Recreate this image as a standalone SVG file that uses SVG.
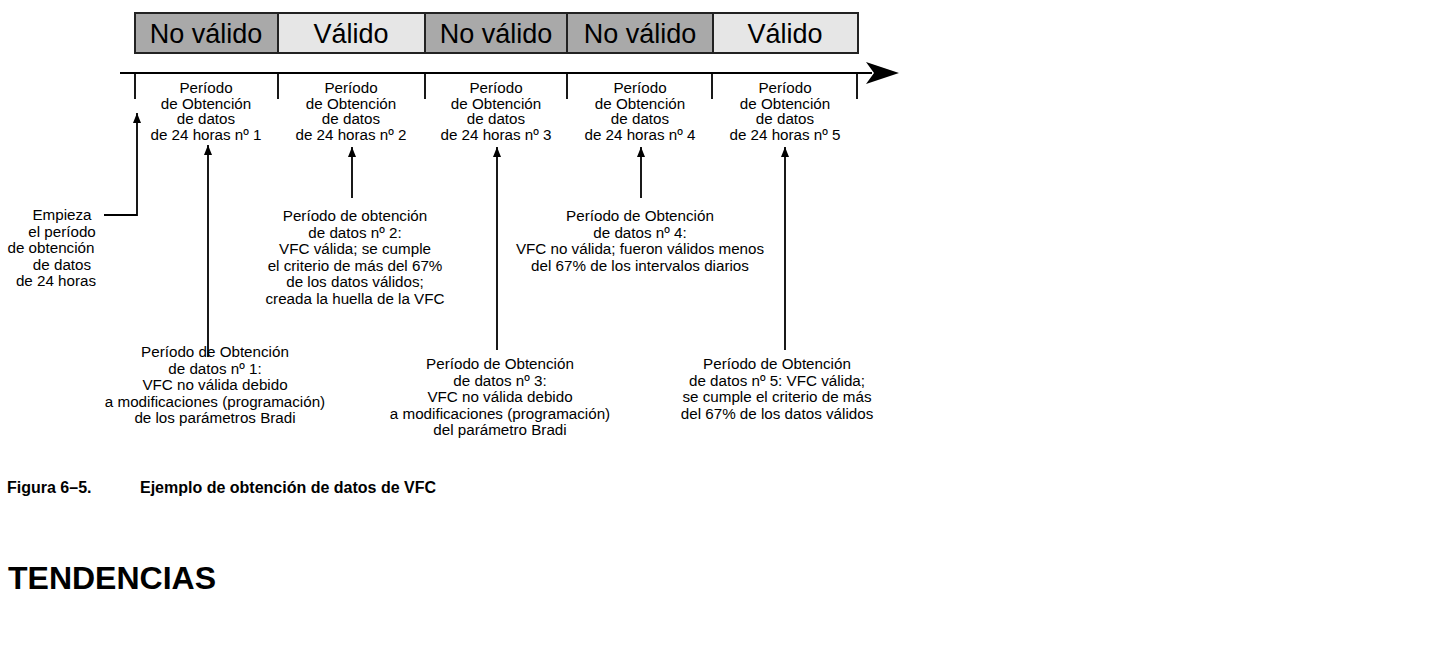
<svg xmlns="http://www.w3.org/2000/svg" width="1443" height="657" viewBox="0 0 1443 657">
<style>
text{font-family:"Liberation Sans",Arial,sans-serif;fill:#000}
.box{stroke:#222;stroke-width:2}
.inv{fill:#a9a9a9}
.val{fill:#e6e6e6}
.bl{font-size:27px;text-anchor:middle}
.t{font-size:15.2px;text-anchor:middle}
.ln{stroke:#000;stroke-width:1.8;fill:none}
.cap{font-size:16px;font-weight:bold}
.h{font-size:32px;font-weight:bold}
</style>
<defs>
<marker id="ah" viewBox="0 0 10 10" refX="10" refY="5" markerWidth="10" markerHeight="10" markerUnits="userSpaceOnUse" orient="auto">
<path d="M0,1 L10,5 L0,9 Z" fill="#000"/>
</marker>
</defs>
<rect width="1443" height="657" fill="#fff"/>
<g id="bar1"><rect class="box inv" x="135" y="13" width="143" height="40"/><text class="bl" x="206" y="43">No válido</text></g>
<g id="bar2"><rect class="box val" x="278" y="13" width="147" height="40"/><text class="bl" x="351" y="43">Válido</text></g>
<g id="bar3"><rect class="box inv" x="425" y="13" width="142" height="40"/><text class="bl" x="496" y="43">No válido</text></g>
<g id="bar4"><rect class="box inv" x="567" y="13" width="146" height="40"/><text class="bl" x="640" y="43">No válido</text></g>
<g id="bar5"><rect class="box val" x="713" y="13" width="145" height="40"/><text class="bl" x="785" y="43">Válido</text></g>
<g id="axis">
<line class="ln" x1="120" y1="73" x2="872" y2="73" stroke-width="2.2"/>
<path d="M899,73 L866,62 L874,73 L866,84 Z" fill="#000"/>
<path class="ln" d="M135,73V99M278,73V99M425,73V99M567,73V99M712,73V99M857,73V99" stroke-width="2.2"/>
</g>
<g id="period1"><text class="t" x="206" y="93">Período</text><text class="t" x="206" y="108.5">de Obtención</text><text class="t" x="206" y="124">de datos</text><text class="t" x="206" y="139.5">de 24 horas nº 1</text></g>
<g id="period2"><text class="t" x="351" y="93">Período</text><text class="t" x="351" y="108.5">de Obtención</text><text class="t" x="351" y="124">de datos</text><text class="t" x="351" y="139.5">de 24 horas nº 2</text></g>
<g id="period3"><text class="t" x="496" y="93">Período</text><text class="t" x="496" y="108.5">de Obtención</text><text class="t" x="496" y="124">de datos</text><text class="t" x="496" y="139.5">de 24 horas nº 3</text></g>
<g id="period4"><text class="t" x="640" y="93">Período</text><text class="t" x="640" y="108.5">de Obtención</text><text class="t" x="640" y="124">de datos</text><text class="t" x="640" y="139.5">de 24 horas nº 4</text></g>
<g id="period5"><text class="t" x="785" y="93">Período</text><text class="t" x="785" y="108.5">de Obtención</text><text class="t" x="785" y="124">de datos</text><text class="t" x="785" y="139.5">de 24 horas nº 5</text></g>
<g id="connectors">
<path class="ln" d="M104,215H137V113" marker-end="url(#ah)"/>
<path class="ln" d="M208,357V145" marker-end="url(#ah)"/>
<path class="ln" d="M352,198V147" marker-end="url(#ah)"/>
<path class="ln" d="M497,350V147" marker-end="url(#ah)"/>
<path class="ln" d="M641,198V147" marker-end="url(#ah)"/>
<path class="ln" d="M785,350V147" marker-end="url(#ah)"/>
</g>
<g id="note-start"><text class="t" x="62" y="220">Empieza</text><text class="t" x="62" y="236.5">el período</text><text class="t" x="51" y="253">de obtención</text><text class="t" x="62" y="269.5">de datos</text><text class="t" x="56" y="286">de 24 horas</text></g>
<g id="note1"><text class="t" x="215" y="357">Período de Obtención</text><text class="t" x="215" y="373.5">de datos nº 1:</text><text class="t" x="215" y="390">VFC no válida debido</text><text class="t" x="215" y="406.5">a modificaciones (programación)</text><text class="t" x="215" y="423">de los parámetros Bradi</text></g>
<g id="note2"><text class="t" x="355" y="221">Período de obtención</text><text class="t" x="355" y="237.5">de datos nº 2:</text><text class="t" x="355" y="254">VFC válida; se cumple</text><text class="t" x="355" y="270.5">el criterio de más del 67%</text><text class="t" x="355" y="287">de los datos válidos;</text><text class="t" x="355" y="303.5">creada la huella de la VFC</text></g>
<g id="note3"><text class="t" x="500" y="369">Período de Obtención</text><text class="t" x="500" y="385.5">de datos nº 3:</text><text class="t" x="500" y="402">VFC no válida debido</text><text class="t" x="500" y="418.5">a modificaciones (programación)</text><text class="t" x="500" y="435">del parámetro Bradi</text></g>
<g id="note4"><text class="t" x="640" y="221">Período de Obtención</text><text class="t" x="640" y="237.5">de datos nº 4:</text><text class="t" x="640" y="254">VFC no válida; fueron válidos menos</text><text class="t" x="640" y="270.5">del 67% de los intervalos diarios</text></g>
<g id="note5"><text class="t" x="777" y="369">Período de Obtención</text><text class="t" x="777" y="385.5">de datos nº 5: VFC válida;</text><text class="t" x="777" y="402">se cumple el criterio de más</text><text class="t" x="777" y="418.5">del 67% de los datos válidos</text></g>
<g id="caption"><text class="cap" x="7" y="493">Figura 6–5.</text><text class="cap" x="140" y="493">Ejemplo de obtención de datos de VFC</text></g>
<text class="h" x="8" y="589">TENDENCIAS</text>
</svg>
